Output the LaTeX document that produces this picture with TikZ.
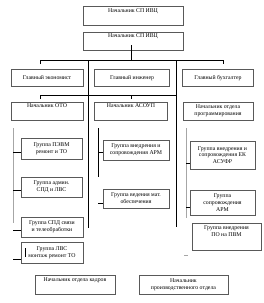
\documentclass[tikz,border=0pt]{standalone}
\usepackage{fontspec}
\setmainfont{Liberation Serif}
\begin{document}
\begin{tikzpicture}[x=1pt,y=-1pt,
  box/.style={draw=black!65, line width=0.5pt, fill=white, align=center, inner sep=0pt,
     font=\fontsize{5.8}{6.8}\selectfont},
  conn/.style={draw=black, line width=0.5pt},
  gconn/.style={draw=black!35, line width=1pt}]
\useasboundingbox (0,0) rectangle (263,303);
% boxes
\node[box, minimum width=100pt, minimum height=19pt] (top) at (133,15.5) {Начальник СП ИВЦ\\[3pt]\mbox{}};
\node[box, minimum width=100pt, minimum height=18pt] (b2) at (133,41) {Начальник СП ИВЦ\\[4pt]\mbox{}};
\node[box, minimum width=72pt, minimum height=17pt] (econ) at (47,78) {Главный экономист};
\node[box, minimum width=75pt, minimum height=17pt] (eng) at (132,78) {Главный инженер};
\node[box, minimum width=71pt, minimum height=17pt] (buh) at (218,78) {Главный бухгалтер};
\node[box, minimum width=72pt, minimum height=18pt] (oto) at (47,111) {Начальник ОТО\\[4pt]\mbox{}};
\node[box, minimum width=73pt, minimum height=18pt] (asoup) at (131,111) {Начальник АСОУП\\[4pt]\mbox{}};
\node[box, minimum width=70pt, minimum height=18pt] (prog) at (218,111) {Начальник отдела\\программирования};
% left column
\node[box, minimum width=61pt, minimum height=21pt] (l1) at (51.5,148.5) {Группа ПЭВМ\\ремонт и ТО};
\node[box, minimum width=61pt, minimum height=20pt] (l2) at (51.5,187) {Группа админ.\\СПД и ЛВС};
\node[box, minimum width=62pt, minimum height=20pt] (l3) at (52,227) {Группа СПД связи\\и телеобработки};
\node[box, minimum width=62pt, minimum height=21pt] (l4) at (52,252.5) {Группа ЛВС\\монтаж ремонт ТО};
% middle column
\node[box, minimum width=66pt, minimum height=20pt] (m1) at (136,150) {Группа внедрения и\\сопровождения АРМ};
\node[box, minimum width=66pt, minimum height=19pt] (m2) at (136,198.5) {Группа ведения мат.\\обеспечения};
% right column
\node[box, minimum width=65pt, minimum height=28pt] (r1) at (222.5,155) {Группа внедрения и\\сопровождения ЕК\\АСУФР};
\node[box, minimum width=65pt, minimum height=25pt] (r2) at (222.5,202.5) {Группа\\сопровождения\\АРМ};
\node[box, minimum width=69pt, minimum height=27pt] (r3) at (226.5,236.5) {Группа внедрения\\ПО на ПВМ\\[4pt]\mbox{}};
% bottom
\node[box, minimum width=80pt, minimum height=19pt] (kadr) at (75,284.5) {Начальник отдела кадров\\[4pt]\mbox{}};
\node[box, minimum width=89pt, minimum height=19pt] (proizv) at (183.5,284.5) {Начальник\\производственного отдела};
% connector coordinates
\coordinate (c0) at (131,45);
\coordinate (c1) at (131,60);
\coordinate (h1l) at (40,60);
\coordinate (h1r) at (223,60);
\coordinate (t1l) at (40,64);
\coordinate (t1r) at (223,64);
\coordinate (va) at (88,60);
\coordinate (vab) at (88,228);
\coordinate (vb) at (176,60);
\coordinate (vbb) at (176,227);
\coordinate (h2l) at (40,95);
\coordinate (h2r) at (176,95);
\coordinate (t2l) at (40,99);
\coordinate (t2m0) at (131,95);
\coordinate (t2m) at (131,99);
% main tree
\draw[conn] (c0) -- (c1);
\draw[conn] (t1l) -- (h1l) -- (h1r) -- (t1r);
\draw[conn] (va) -- (vab);
\draw[conn] (vb) -- (vbb);
\draw[conn] (t2l) -- (h2l) -- (h2r);
\draw[conn] (t2m0) -- (t2m);
% left column
\coordinate (lg0) at (13,128);
\coordinate (lg1) at (13,223);
\draw[gconn] (lg0) -- (lg1);
\draw[conn] (13,152) -- (l1.west |- 0,152);
\draw[conn] (13,190) -- (l2.west |- 0,190);
\draw[conn] (13,230) -- (l3.west |- 0,230);
\draw[conn] (13,259) -- (l4.west |- 0,259);
\draw[conn] (25,248) -- (25,257);
% middle column
\coordinate (mg0) at (98,128);
\coordinate (mg1) at (98,177);
\draw[conn] (mg0) -- (mg1);
\draw[conn] (98,152) -- (m1.west |- 0,152);
\draw[conn] (98,203) -- (m2.west |- 0,203);
% right column
\coordinate (rg0) at (186,128);
\coordinate (rg1) at (186,218);
\draw[gconn] (rg0) -- (rg1);
\draw[conn] (186,163) -- (r1.west |- 0,163);
\draw[conn] (186,207) -- (r2.west |- 0,207);
\draw[draw=black!35, line width=0.8pt] (184,255) -- (188,255);
\end{tikzpicture}
\end{document}
